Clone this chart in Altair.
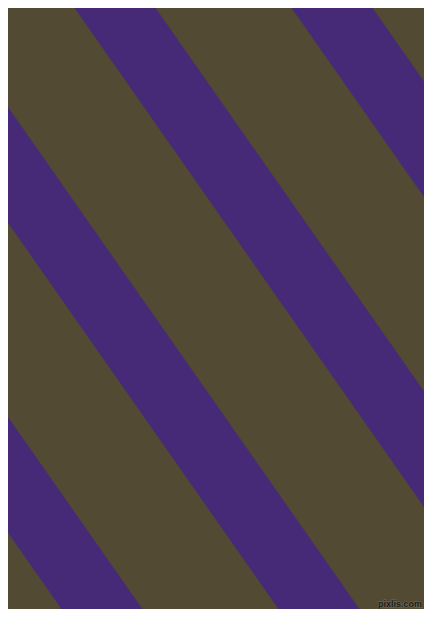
import altair as alt
import pandas as pd
import math

# Stripe pattern data (reference pixel coordinates)
stripe_x_at_top = [-324.5, -107.5, 109.5, 326.5]   # centre x of each stripe where y = 0
stripe_angle_deg = 55.0                            # angle from horizontal
stripe_horizontal_width = 81.0                     # width measured horizontally
bg_color = "#524a32"
stripe_color = "#472a77"
watermark = ["pixlis.com"]
watermark_pos_x = [422]
watermark_pos_y = [607]

W, H = 432, 617
M = 8  # page margin

slope = math.tan(math.radians(stripe_angle_deg))
y_top, y_bot = -60.0, 680.0
rows = []
for i, x0 in enumerate(stripe_x_at_top):
    rows.append({
        "id": i,
        "x": x0 + y_top / slope,
        "y": y_top,
        "x2": x0 + y_bot / slope,
        "y2": y_bot,
    })
df = pd.DataFrame(rows)

xs = alt.Scale(domain=[M, W - M], range=[0, W - 2 * M], nice=False, zero=False)
ys = alt.Scale(domain=[M, H - M], range=[0, H - 2 * M], nice=False, zero=False)

stroke_w = stripe_horizontal_width * math.sin(math.radians(stripe_angle_deg))

stripes = alt.Chart(df).mark_rule(
    color=stripe_color, strokeWidth=stroke_w, strokeCap="butt", clip=True
).encode(
    x=alt.X("x:Q", scale=xs, axis=None),
    y=alt.Y("y:Q", scale=ys, axis=None),
    x2="x2:Q",
    y2="y2:Q",
)

wm_df = pd.DataFrame({"t": watermark, "x": watermark_pos_x, "y": watermark_pos_y})
wm_halo = alt.Chart(wm_df).mark_text(
    align="right", baseline="alphabetic", font="Liberation Sans", fontSize=9,
    fontWeight="bold", color="#777766", stroke="#777766", strokeWidth=1.5, opacity=0.6
).encode(x=alt.X("x:Q", scale=xs, axis=None), y=alt.Y("y:Q", scale=ys, axis=None), text="t:N")
wm = alt.Chart(wm_df).mark_text(
    align="right", baseline="alphabetic", font="Liberation Sans", fontSize=9,
    fontWeight="bold", color="#1e1e1a"
).encode(x=alt.X("x:Q", scale=xs, axis=None), y=alt.Y("y:Q", scale=ys, axis=None), text="t:N")

chart = alt.layer(stripes, wm_halo, wm).properties(
    width=W - 2 * M, height=H - 2 * M, background=bg_color, padding=0,
    autosize=alt.AutoSizeParams(type="none"),
).configure_view(stroke=None, fill=bg_color)

chart.save("out.html", embed_options={"renderer": "svg", "actions": False})
